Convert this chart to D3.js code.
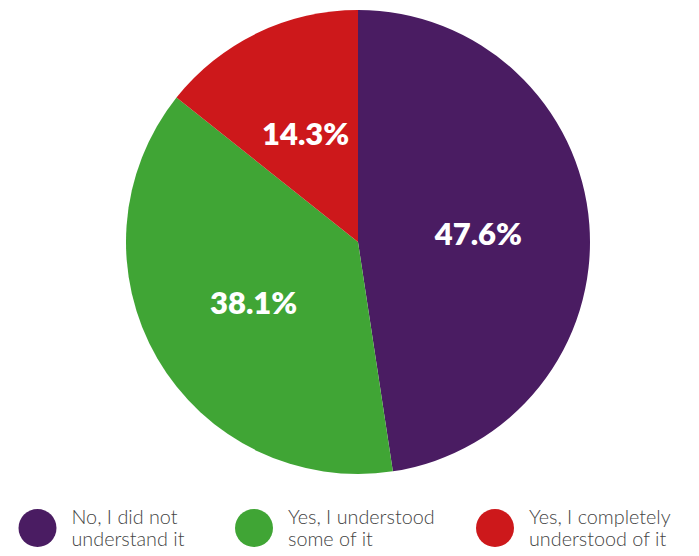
<!DOCTYPE html>
<html>
<head>
<meta charset="utf-8">
<script src="https://cdn.jsdelivr.net/npm/d3@7"></script>
<style>
  html, body { margin: 0; padding: 0; background: #ffffff; }
  svg { display: block; }
</style>
</head>
<body>
<svg id="chart" width="699" height="556"></svg>
<script>
// Survey answers and their shares (percent)
const categories = [
  "No, I did not understand it",
  "Yes, I understood some of it",
  "Yes, I completely understood of it"
];
const shares = [47.6, 38.1, 14.3];
const sliceColors = ["#4a1c62", "#40a535", "#cd181b"];
// Legend text split over two lines
const legendLines = [
  ["No, I did not", "understand it"],
  ["Yes, I understood", "some of it"],
  ["Yes, I completely", "understood of it"]
];

const width = 699, height = 556;
const cx = 358, cy = 242, radius = 232;

const svg = d3.select("#chart");
const data = categories.map((c, i) => ({ category: c, value: shares[i], color: sliceColors[i] }));

const pie = d3.pie().value(d => d.value).sort(null);
const arc = d3.arc().innerRadius(0).outerRadius(radius);
const labelArc = d3.arc().innerRadius(radius * 0.52).outerRadius(radius * 0.52);

const g = svg.append("g").attr("transform", `translate(${cx},${cy})`);
const arcs = pie(data);

g.selectAll("path.slice")
  .data(arcs)
  .join("path")
  .attr("class", "slice")
  .attr("d", arc)
  .attr("fill", d => d.data.color);

g.selectAll("text.pct")
  .data(arcs)
  .join("text")
  .attr("class", "pct")
  .attr("transform", d => `translate(${labelArc.centroid(d)})`)
  .attr("text-anchor", "middle")
  .attr("dominant-baseline", "central")
  .attr("fill", "#ffffff")
  .attr("font-family", "Lato, 'DejaVu Sans', sans-serif")
  .attr("font-weight", 800)
  .attr("font-size", 31)
  .text(d => d3.format(".1f")(d.data.value) + "%");

// Legend along the bottom
const legendX = [18.5, 235, 476];
const legendY = 528;
const item = svg.append("g").selectAll("g.item")
  .data(data)
  .join("g")
  .attr("class", "item")
  .attr("transform", (d, i) => `translate(${legendX[i]},${legendY})`);

item.append("circle")
  .attr("cx", 19)
  .attr("cy", 0)
  .attr("r", 19)
  .attr("fill", d => d.color);

item.append("text")
  .attr("x", 53)
  .attr("y", -4.5)
  .attr("fill", "#444444")
  .attr("font-family", "Lato, 'DejaVu Sans', sans-serif")
  .attr("font-weight", 300)
  .attr("font-size", 19.8)
  .selectAll("tspan")
  .data((d, i) => legendLines[i])
  .join("tspan")
  .attr("x", 53)
  .attr("dy", (t, j) => j === 0 ? 0 : 22)
  .text(t => t);
</script>
</body>
</html>
